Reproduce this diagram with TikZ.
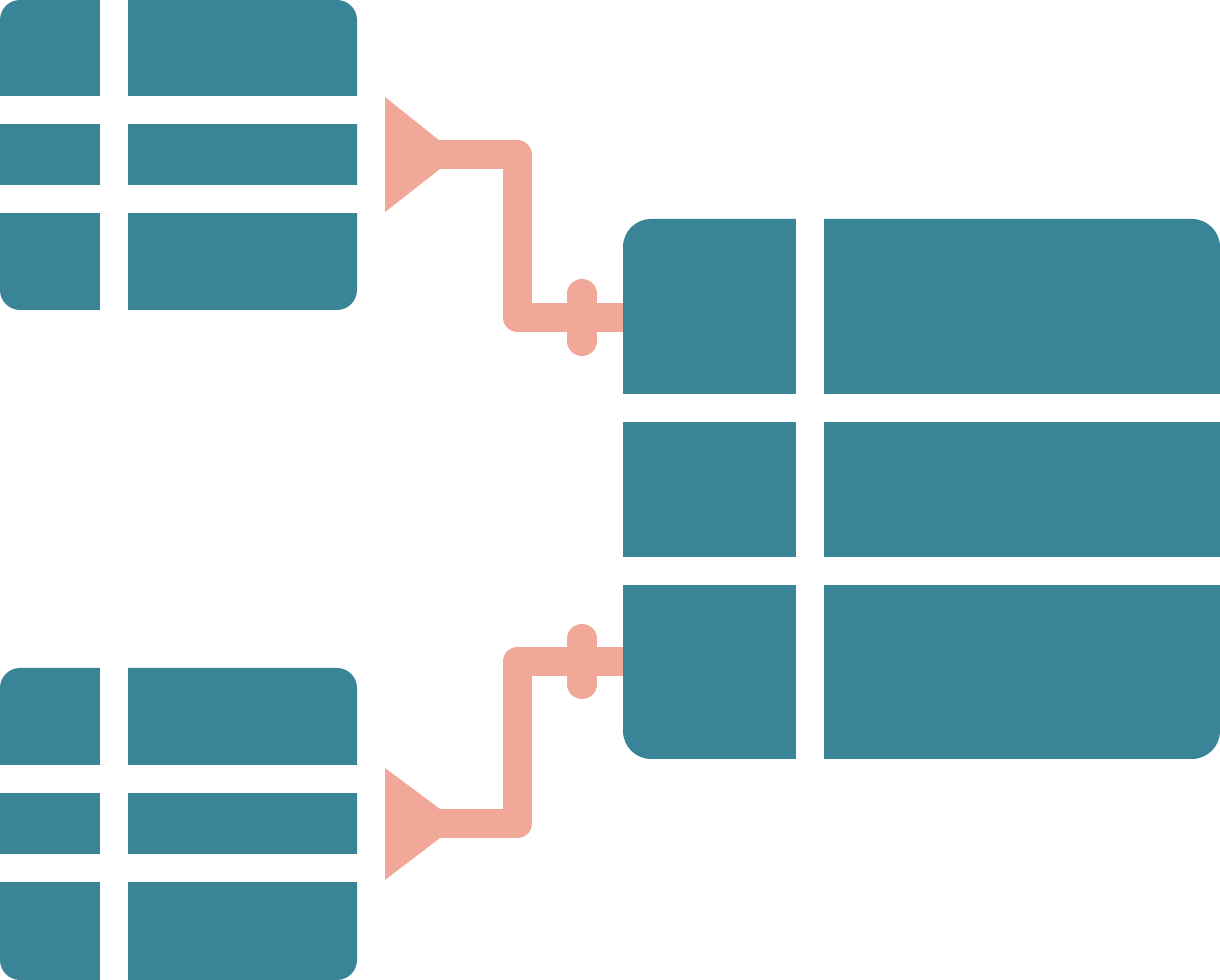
\documentclass[tikz,border=0pt]{standalone}
\definecolor{teal}{RGB}{57,132,151}
\definecolor{salmon}{RGB}{242,168,152}
\tikzset{
  tablefill/.style={fill=teal},
  gapfill/.style={fill=white},
  pipe/.style={draw=salmon, line width=0.29cm, line join=round},
  valve/.style={draw=salmon, line width=0.29cm, line cap=round},
  funnel/.style={fill=salmon}
}
\newcommand\mytable[8]{%
  % #1,#2 top-left; #3,#4 bottom-right; #5 col gap left; #6,#7 row gap tops; #8 radius
  \fill[tablefill, rounded corners=#8] (#1,#2) rectangle (#3,#4);
  \fill[gapfill] (#5,#2-5) rectangle (#5+28,#4+5);
  \fill[gapfill] (#1-5,#6) rectangle (#3+5,#6+28);
  \fill[gapfill] (#1-5,#7) rectangle (#3+5,#7+28);
}
\begin{document}
\begin{tikzpicture}[x=0.01cm,y=-0.01cm]
\useasboundingbox (0,0) rectangle (1220,980);
% tables
\mytable{0}{0}{357}{310}{100}{96}{185}{0.2cm}
\mytable{0}{668}{357}{980}{100}{765}{854}{0.2cm}
\mytable{623}{219}{1220}{759}{796}{394}{557}{0.28cm}
% named points
\coordinate (srcA) at (438,155);
\coordinate (srcB) at (438,823.5);
\coordinate (bendA) at (517.5,155);
\coordinate (bendA2) at (517.5,317.5);
\coordinate (bendB) at (517.5,823.5);
\coordinate (bendB2) at (517.5,661.5);
\coordinate (dstA) at (623,317.5);
\coordinate (dstB) at (623,661.5);
% funnels
\fill[funnel] (385,97) -- (440,141) -- (440,169) -- (385,212) -- cycle;
\fill[funnel] (385,768) -- (440,809) -- (440,838) -- (385,880) -- cycle;
% pipes
\draw[pipe] (srcA) -- (bendA) -- (bendA2) -- (dstA);
\draw[pipe] (srcB) -- (bendB) -- (bendB2) -- (dstB);
% valves
\draw[valve] (582,293.5) -- (582,341.5);
\draw[valve] (582,638.5) -- (582,684.5);
\end{tikzpicture}
\end{document}
